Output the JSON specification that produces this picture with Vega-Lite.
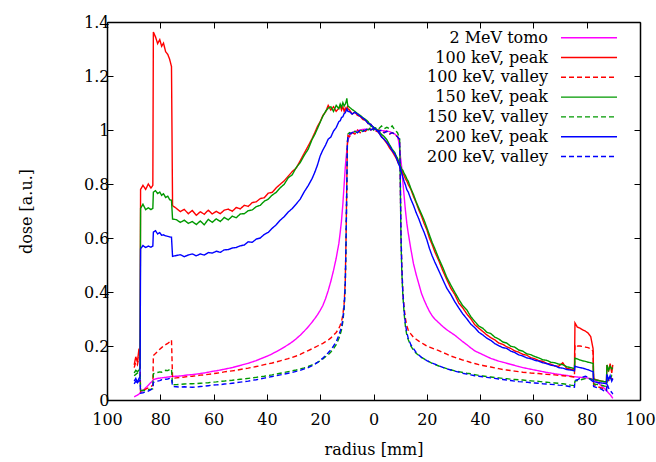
{
  "$schema": "https://vega.github.io/schema/vega-lite/v6.json",
  "width": 533,
  "height": 378,
  "autosize": {"type": "none"},
  "padding": {"left": 107, "top": 22, "right": 16, "bottom": 62},
  "background": "white",
  "data": {"values": [
    {"x":-89.8,"a":0.012,"b":0.13,"c":0.12,"d":0.1,"e":0.09,"f":0.07,"g":0.06},
    {"x":-89.2,"a":0.015,"b":0.16,"c":0.14,"d":0.11,"e":0.095,"f":0.08,"g":0.07},
    {"x":-88.6,"a":0.018,"b":0.14,"c":0.13,"d":0.105,"e":0.1,"f":0.065,"g":0.06},
    {"x":-88.0,"a":0.022,"b":0.19,"c":0.16,"d":0.11,"e":0.1,"f":0.08,"g":0.07},
    {"x":-87.6,"a":0.026,"b":0.15,"c":0.13,"d":0.12,"e":0.1,"f":0.085,"g":0.075},
    {"x":-87.4,"a":0.028,"b":0.78,"c":0.03,"d":0.71,"e":0.035,"f":0.56,"g":0.025},
    {"x":-86.5,"a":0.035,"b":0.795,"c":0.034,"d":0.725,"e":0.036,"f":0.572,"g":0.027},
    {"x":-85.5,"a":0.045,"b":0.78,"c":0.04,"d":0.705,"e":0.035,"f":0.565,"g":0.03},
    {"x":-84.5,"a":0.055,"b":0.8,"c":0.045,"d":0.712,"e":0.038,"f":0.57,"g":0.033},
    {"x":-83.5,"a":0.065,"b":0.785,"c":0.05,"d":0.705,"e":0.04,"f":0.566,"g":0.038},
    {"x":-82.8,"a":0.072,"b":0.795,"c":0.055,"d":0.71,"e":0.042,"f":0.57,"g":0.044},
    {"x":-82.6,"a":0.075,"b":1.363,"c":0.165,"d":0.77,"e":0.097,"f":0.622,"g":0.065},
    {"x":-81.8,"a":0.078,"b":1.345,"c":0.172,"d":0.775,"e":0.1,"f":0.627,"g":0.068},
    {"x":-81.0,"a":0.08,"b":1.32,"c":0.18,"d":0.765,"e":0.102,"f":0.615,"g":0.07},
    {"x":-80.2,"a":0.081,"b":1.335,"c":0.188,"d":0.77,"e":0.104,"f":0.62,"g":0.072},
    {"x":-79.5,"a":0.082,"b":1.31,"c":0.194,"d":0.758,"e":0.103,"f":0.61,"g":0.075},
    {"x":-78.8,"a":0.083,"b":1.322,"c":0.2,"d":0.764,"e":0.107,"f":0.612,"g":0.074},
    {"x":-78.0,"a":0.084,"b":1.29,"c":0.205,"d":0.75,"e":0.11,"f":0.608,"g":0.077},
    {"x":-77.2,"a":0.085,"b":1.28,"c":0.21,"d":0.755,"e":0.109,"f":0.606,"g":0.078},
    {"x":-76.5,"a":0.086,"b":1.262,"c":0.215,"d":0.742,"e":0.113,"f":0.604,"g":0.08},
    {"x":-75.8,"a":0.087,"b":1.235,"c":0.222,"d":0.74,"e":0.115,"f":0.603,"g":0.08},
    {"x":-75.4,"a":0.087,"b":0.72,"c":0.08,"d":0.67,"e":0.056,"f":0.532,"g":0.05},
    {"x":-74.0,"a":0.088,"b":0.71,"c":0.082,"d":0.668,"e":0.057,"f":0.535,"g":0.049},
    {"x":-72.5,"a":0.089,"b":0.698,"c":0.084,"d":0.658,"e":0.058,"f":0.538,"g":0.048},
    {"x":-71.0,"a":0.091,"b":0.706,"c":0.085,"d":0.666,"e":0.059,"f":0.531,"g":0.049},
    {"x":-69.5,"a":0.093,"b":0.69,"c":0.087,"d":0.654,"e":0.06,"f":0.537,"g":0.048},
    {"x":-68.0,"a":0.094,"b":0.702,"c":0.088,"d":0.661,"e":0.06,"f":0.541,"g":0.047},
    {"x":-66.5,"a":0.096,"b":0.684,"c":0.09,"d":0.65,"e":0.061,"f":0.534,"g":0.048},
    {"x":-65.0,"a":0.098,"b":0.697,"c":0.092,"d":0.663,"e":0.062,"f":0.541,"g":0.05},
    {"x":-63.5,"a":0.1,"b":0.688,"c":0.093,"d":0.649,"e":0.063,"f":0.537,"g":0.051},
    {"x":-62.0,"a":0.103,"b":0.703,"c":0.095,"d":0.669,"e":0.064,"f":0.546,"g":0.053},
    {"x":-60.5,"a":0.106,"b":0.689,"c":0.097,"d":0.658,"e":0.066,"f":0.544,"g":0.055},
    {"x":-59.0,"a":0.108,"b":0.699,"c":0.099,"d":0.671,"e":0.067,"f":0.551,"g":0.056},
    {"x":-57.5,"a":0.111,"b":0.69,"c":0.101,"d":0.661,"e":0.069,"f":0.547,"g":0.057},
    {"x":-56.0,"a":0.114,"b":0.703,"c":0.104,"d":0.676,"e":0.07,"f":0.556,"g":0.059},
    {"x":-54.5,"a":0.117,"b":0.707,"c":0.106,"d":0.667,"e":0.072,"f":0.557,"g":0.06},
    {"x":-53.0,"a":0.12,"b":0.699,"c":0.108,"d":0.681,"e":0.073,"f":0.563,"g":0.062},
    {"x":-51.5,"a":0.124,"b":0.713,"c":0.11,"d":0.675,"e":0.075,"f":0.565,"g":0.064},
    {"x":-50.0,"a":0.128,"b":0.708,"c":0.113,"d":0.689,"e":0.077,"f":0.571,"g":0.066},
    {"x":-48.5,"a":0.132,"b":0.721,"c":0.116,"d":0.69,"e":0.078,"f":0.574,"g":0.068},
    {"x":-47.0,"a":0.136,"b":0.717,"c":0.118,"d":0.701,"e":0.08,"f":0.586,"g":0.07},
    {"x":-45.5,"a":0.141,"b":0.731,"c":0.121,"d":0.704,"e":0.082,"f":0.584,"g":0.073},
    {"x":-44.0,"a":0.146,"b":0.734,"c":0.124,"d":0.716,"e":0.084,"f":0.596,"g":0.075},
    {"x":-42.5,"a":0.152,"b":0.746,"c":0.127,"d":0.721,"e":0.086,"f":0.6,"g":0.078},
    {"x":-41.0,"a":0.158,"b":0.749,"c":0.131,"d":0.736,"e":0.088,"f":0.613,"g":0.081},
    {"x":-39.5,"a":0.164,"b":0.766,"c":0.134,"d":0.744,"e":0.091,"f":0.621,"g":0.084},
    {"x":-38.0,"a":0.171,"b":0.769,"c":0.137,"d":0.759,"e":0.093,"f":0.636,"g":0.087},
    {"x":-36.5,"a":0.179,"b":0.786,"c":0.141,"d":0.769,"e":0.096,"f":0.649,"g":0.09},
    {"x":-35.0,"a":0.187,"b":0.799,"c":0.145,"d":0.786,"e":0.099,"f":0.666,"g":0.093},
    {"x":-33.5,"a":0.196,"b":0.812,"c":0.149,"d":0.799,"e":0.102,"f":0.679,"g":0.096},
    {"x":-32.0,"a":0.205,"b":0.829,"c":0.153,"d":0.823,"e":0.105,"f":0.696,"g":0.099},
    {"x":-30.5,"a":0.215,"b":0.846,"c":0.158,"d":0.834,"e":0.108,"f":0.709,"g":0.102},
    {"x":-29.0,"a":0.227,"b":0.859,"c":0.163,"d":0.861,"e":0.111,"f":0.726,"g":0.106},
    {"x":-27.5,"a":0.24,"b":0.886,"c":0.169,"d":0.879,"e":0.115,"f":0.744,"g":0.11},
    {"x":-26.0,"a":0.255,"b":0.914,"c":0.176,"d":0.906,"e":0.119,"f":0.771,"g":0.115},
    {"x":-24.5,"a":0.271,"b":0.941,"c":0.183,"d":0.929,"e":0.124,"f":0.794,"g":0.12},
    {"x":-23.0,"a":0.289,"b":0.969,"c":0.19,"d":0.966,"e":0.13,"f":0.821,"g":0.127},
    {"x":-22.0,"a":0.302,"b":0.991,"c":0.195,"d":0.984,"e":0.134,"f":0.844,"g":0.133},
    {"x":-21.0,"a":0.316,"b":1.014,"c":0.2,"d":1.006,"e":0.139,"f":0.871,"g":0.139},
    {"x":-20.0,"a":0.332,"b":1.031,"c":0.205,"d":1.029,"e":0.145,"f":0.904,"g":0.147},
    {"x":-19.0,"a":0.35,"b":1.054,"c":0.21,"d":1.051,"e":0.152,"f":0.926,"g":0.155},
    {"x":-18.0,"a":0.375,"b":1.066,"c":0.216,"d":1.069,"e":0.16,"f":0.944,"g":0.165},
    {"x":-17.0,"a":0.405,"b":1.091,"c":0.222,"d":1.081,"e":0.168,"f":0.966,"g":0.175},
    {"x":-16.0,"a":0.44,"b":1.074,"c":0.23,"d":1.086,"e":0.178,"f":0.974,"g":0.186},
    {"x":-15.0,"a":0.48,"b":1.086,"c":0.24,"d":1.069,"e":0.19,"f":0.996,"g":0.2},
    {"x":-14.0,"a":0.525,"b":1.069,"c":0.25,"d":1.091,"e":0.205,"f":1.009,"g":0.215},
    {"x":-13.0,"a":0.58,"b":1.081,"c":0.265,"d":1.079,"e":0.228,"f":1.031,"g":0.24},
    {"x":-12.5,"a":0.62,"b":1.091,"c":0.277,"d":1.096,"e":0.243,"f":1.034,"g":0.255},
    {"x":-12.0,"a":0.665,"b":1.074,"c":0.29,"d":1.084,"e":0.26,"f":1.046,"g":0.27},
    {"x":-11.5,"a":0.725,"b":1.086,"c":0.315,"d":1.101,"e":0.29,"f":1.049,"g":0.3},
    {"x":-11.0,"a":0.8,"b":1.069,"c":0.36,"d":1.089,"e":0.34,"f":1.061,"g":0.35},
    {"x":-10.6,"a":0.86,"b":1.081,"c":0.44,"d":1.096,"e":0.42,"f":1.064,"g":0.43},
    {"x":-10.3,"a":0.895,"b":1.074,"c":0.6,"d":1.104,"e":0.58,"f":1.071,"g":0.59},
    {"x":-10.0,"a":0.925,"b":1.081,"c":0.82,"d":1.117,"e":0.8,"f":1.078,"g":0.81},
    {"x":-9.8,"a":0.945,"b":1.086,"c":0.95,"d":1.099,"e":0.945,"f":1.074,"g":0.95},
    {"x":-9.6,"a":0.96,"b":1.079,"c":0.98,"d":1.089,"e":0.985,"f":1.069,"g":0.975},
    {"x":-9.0,"a":0.98,"b":1.074,"c":0.975,"d":1.084,"e":0.99,"f":1.068,"g":0.985},
    {"x":-8.0,"a":0.99,"b":1.059,"c":0.99,"d":1.076,"e":0.985,"f":1.059,"g":0.99},
    {"x":-7.0,"a":0.995,"b":1.066,"c":0.985,"d":1.069,"e":0.995,"f":1.066,"g":0.995},
    {"x":-6.0,"a":0.998,"b":1.054,"c":1.0,"d":1.061,"e":0.99,"f":1.059,"g":0.99},
    {"x":-5.0,"a":1.0,"b":1.051,"c":0.99,"d":1.054,"e":1.0,"f":1.051,"g":1.0},
    {"x":-4.0,"a":1.002,"b":1.039,"c":1.0,"d":1.046,"e":0.995,"f":1.044,"g":0.995},
    {"x":-3.0,"a":1.003,"b":1.036,"c":0.995,"d":1.039,"e":1.005,"f":1.036,"g":1.0},
    {"x":-2.0,"a":1.003,"b":1.024,"c":1.005,"d":1.031,"e":1.0,"f":1.024,"g":1.005},
    {"x":-1.0,"a":1.003,"b":1.021,"c":1.0,"d":1.014,"e":1.01,"f":1.021,"g":1.0},
    {"x":0.0,"a":1.002,"b":1.009,"c":1.005,"d":1.011,"e":1.0,"f":1.009,"g":1.005},
    {"x":1.0,"a":1.0,"b":1.001,"c":0.995,"d":1.004,"e":1.01,"f":1.001,"g":1.0},
    {"x":2.0,"a":0.999,"b":0.989,"c":1.0,"d":0.996,"e":1.005,"f":0.991,"g":0.995},
    {"x":3.0,"a":0.998,"b":0.976,"c":0.995,"d":0.984,"e":1.015,"f":0.974,"g":1.0},
    {"x":4.0,"a":0.997,"b":0.964,"c":0.99,"d":0.976,"e":1.005,"f":0.966,"g":0.99},
    {"x":5.0,"a":0.996,"b":0.951,"c":0.995,"d":0.964,"e":1.01,"f":0.954,"g":0.995},
    {"x":6.0,"a":0.994,"b":0.934,"c":0.985,"d":0.946,"e":1.005,"f":0.941,"g":0.985},
    {"x":7.0,"a":0.99,"b":0.921,"c":0.99,"d":0.929,"e":1.015,"f":0.924,"g":0.99},
    {"x":8.0,"a":0.985,"b":0.904,"c":0.985,"d":0.916,"e":1.0,"f":0.911,"g":0.985},
    {"x":8.5,"a":0.98,"b":0.896,"c":0.98,"d":0.904,"e":0.995,"f":0.899,"g":0.98},
    {"x":9.0,"a":0.975,"b":0.884,"c":0.975,"d":0.896,"e":0.99,"f":0.886,"g":0.975},
    {"x":9.4,"a":0.96,"b":0.876,"c":0.97,"d":0.884,"e":0.98,"f":0.874,"g":0.97},
    {"x":9.8,"a":0.93,"b":0.869,"c":0.96,"d":0.876,"e":0.97,"f":0.866,"g":0.965},
    {"x":10.0,"a":0.91,"b":0.866,"c":0.85,"d":0.869,"e":0.86,"f":0.859,"g":0.86},
    {"x":10.3,"a":0.885,"b":0.854,"c":0.62,"d":0.863,"e":0.6,"f":0.851,"g":0.62},
    {"x":10.6,"a":0.86,"b":0.851,"c":0.5,"d":0.854,"e":0.48,"f":0.839,"g":0.5},
    {"x":11.0,"a":0.81,"b":0.839,"c":0.4,"d":0.851,"e":0.39,"f":0.826,"g":0.4},
    {"x":11.5,"a":0.755,"b":0.831,"c":0.34,"d":0.839,"e":0.32,"f":0.809,"g":0.33},
    {"x":12.0,"a":0.7,"b":0.819,"c":0.3,"d":0.831,"e":0.27,"f":0.796,"g":0.28},
    {"x":12.5,"a":0.655,"b":0.811,"c":0.275,"d":0.819,"e":0.24,"f":0.779,"g":0.25},
    {"x":13.0,"a":0.62,"b":0.799,"c":0.26,"d":0.811,"e":0.225,"f":0.771,"g":0.23},
    {"x":14.0,"a":0.56,"b":0.781,"c":0.245,"d":0.784,"e":0.2,"f":0.744,"g":0.205},
    {"x":15.0,"a":0.505,"b":0.754,"c":0.232,"d":0.761,"e":0.185,"f":0.721,"g":0.19},
    {"x":16.0,"a":0.465,"b":0.731,"c":0.225,"d":0.734,"e":0.173,"f":0.694,"g":0.176},
    {"x":17.0,"a":0.43,"b":0.704,"c":0.218,"d":0.711,"e":0.165,"f":0.671,"g":0.167},
    {"x":18.0,"a":0.395,"b":0.681,"c":0.212,"d":0.689,"e":0.158,"f":0.644,"g":0.158},
    {"x":19.0,"a":0.37,"b":0.654,"c":0.206,"d":0.666,"e":0.152,"f":0.621,"g":0.152},
    {"x":20.0,"a":0.348,"b":0.631,"c":0.2,"d":0.639,"e":0.146,"f":0.594,"g":0.146},
    {"x":21.0,"a":0.328,"b":0.599,"c":0.196,"d":0.611,"e":0.141,"f":0.561,"g":0.141},
    {"x":22.0,"a":0.312,"b":0.576,"c":0.192,"d":0.584,"e":0.136,"f":0.534,"g":0.137},
    {"x":23.0,"a":0.3,"b":0.549,"c":0.188,"d":0.561,"e":0.132,"f":0.511,"g":0.133},
    {"x":24.5,"a":0.286,"b":0.516,"c":0.183,"d":0.524,"e":0.126,"f":0.479,"g":0.127},
    {"x":26.0,"a":0.272,"b":0.479,"c":0.176,"d":0.491,"e":0.121,"f":0.446,"g":0.121},
    {"x":27.5,"a":0.26,"b":0.446,"c":0.17,"d":0.454,"e":0.116,"f":0.414,"g":0.116},
    {"x":29.0,"a":0.25,"b":0.414,"c":0.163,"d":0.426,"e":0.112,"f":0.391,"g":0.111},
    {"x":30.5,"a":0.24,"b":0.391,"c":0.158,"d":0.399,"e":0.108,"f":0.364,"g":0.107},
    {"x":32.0,"a":0.228,"b":0.359,"c":0.153,"d":0.373,"e":0.105,"f":0.341,"g":0.103},
    {"x":33.5,"a":0.216,"b":0.341,"c":0.148,"d":0.349,"e":0.102,"f":0.319,"g":0.099},
    {"x":35.0,"a":0.205,"b":0.319,"c":0.144,"d":0.334,"e":0.099,"f":0.301,"g":0.096},
    {"x":36.5,"a":0.193,"b":0.301,"c":0.139,"d":0.309,"e":0.097,"f":0.281,"g":0.093},
    {"x":38.0,"a":0.182,"b":0.279,"c":0.135,"d":0.291,"e":0.094,"f":0.268,"g":0.09},
    {"x":39.5,"a":0.175,"b":0.266,"c":0.131,"d":0.274,"e":0.091,"f":0.251,"g":0.088},
    {"x":41.0,"a":0.168,"b":0.254,"c":0.128,"d":0.266,"e":0.089,"f":0.241,"g":0.086},
    {"x":42.5,"a":0.161,"b":0.241,"c":0.125,"d":0.251,"e":0.087,"f":0.229,"g":0.084},
    {"x":44.0,"a":0.154,"b":0.231,"c":0.122,"d":0.246,"e":0.085,"f":0.221,"g":0.082},
    {"x":45.5,"a":0.149,"b":0.223,"c":0.119,"d":0.233,"e":0.083,"f":0.209,"g":0.08},
    {"x":47.0,"a":0.144,"b":0.211,"c":0.116,"d":0.226,"e":0.082,"f":0.201,"g":0.078},
    {"x":48.5,"a":0.14,"b":0.206,"c":0.113,"d":0.215,"e":0.08,"f":0.194,"g":0.076},
    {"x":50.0,"a":0.136,"b":0.197,"c":0.111,"d":0.211,"e":0.079,"f":0.191,"g":0.074},
    {"x":51.5,"a":0.132,"b":0.191,"c":0.109,"d":0.199,"e":0.077,"f":0.181,"g":0.072},
    {"x":53.0,"a":0.128,"b":0.182,"c":0.107,"d":0.196,"e":0.076,"f":0.176,"g":0.07},
    {"x":54.5,"a":0.124,"b":0.177,"c":0.105,"d":0.185,"e":0.075,"f":0.167,"g":0.068},
    {"x":56.0,"a":0.12,"b":0.169,"c":0.103,"d":0.181,"e":0.074,"f":0.163,"g":0.067},
    {"x":57.5,"a":0.117,"b":0.166,"c":0.102,"d":0.171,"e":0.072,"f":0.156,"g":0.066},
    {"x":59.0,"a":0.114,"b":0.157,"c":0.1,"d":0.168,"e":0.071,"f":0.153,"g":0.064},
    {"x":60.5,"a":0.111,"b":0.153,"c":0.099,"d":0.161,"e":0.07,"f":0.147,"g":0.063},
    {"x":62.0,"a":0.108,"b":0.146,"c":0.098,"d":0.156,"e":0.069,"f":0.144,"g":0.062},
    {"x":63.5,"a":0.105,"b":0.143,"c":0.096,"d":0.149,"e":0.067,"f":0.138,"g":0.06},
    {"x":65.0,"a":0.102,"b":0.135,"c":0.095,"d":0.147,"e":0.066,"f":0.135,"g":0.059},
    {"x":66.5,"a":0.1,"b":0.133,"c":0.094,"d":0.14,"e":0.064,"f":0.129,"g":0.058},
    {"x":68.0,"a":0.097,"b":0.126,"c":0.093,"d":0.138,"e":0.063,"f":0.127,"g":0.057},
    {"x":69.5,"a":0.095,"b":0.125,"c":0.091,"d":0.133,"e":0.062,"f":0.12,"g":0.055},
    {"x":71.0,"a":0.093,"b":0.138,"c":0.09,"d":0.131,"e":0.06,"f":0.118,"g":0.054},
    {"x":72.5,"a":0.091,"b":0.117,"c":0.089,"d":0.123,"e":0.058,"f":0.113,"g":0.052},
    {"x":74.0,"a":0.088,"b":0.114,"c":0.087,"d":0.12,"e":0.055,"f":0.111,"g":0.049},
    {"x":75.4,"a":0.086,"b":0.11,"c":0.085,"d":0.116,"e":0.053,"f":0.108,"g":0.047},
    {"x":75.6,"a":0.086,"b":0.285,"c":0.205,"d":0.155,"e":0.07,"f":0.125,"g":0.072},
    {"x":76.5,"a":0.085,"b":0.27,"c":0.2,"d":0.152,"e":0.072,"f":0.122,"g":0.075},
    {"x":77.5,"a":0.084,"b":0.266,"c":0.2,"d":0.148,"e":0.074,"f":0.12,"g":0.08},
    {"x":78.5,"a":0.083,"b":0.26,"c":0.198,"d":0.145,"e":0.077,"f":0.118,"g":0.085},
    {"x":79.5,"a":0.082,"b":0.255,"c":0.196,"d":0.143,"e":0.079,"f":0.115,"g":0.088},
    {"x":80.5,"a":0.081,"b":0.248,"c":0.194,"d":0.14,"e":0.08,"f":0.112,"g":0.085},
    {"x":81.5,"a":0.079,"b":0.235,"c":0.19,"d":0.138,"e":0.078,"f":0.108,"g":0.075},
    {"x":82.4,"a":0.077,"b":0.19,"c":0.18,"d":0.135,"e":0.074,"f":0.105,"g":0.068},
    {"x":82.6,"a":0.075,"b":0.08,"c":0.058,"d":0.076,"e":0.06,"f":0.068,"g":0.05},
    {"x":83.5,"a":0.07,"b":0.075,"c":0.052,"d":0.074,"e":0.058,"f":0.066,"g":0.047},
    {"x":84.5,"a":0.062,"b":0.072,"c":0.048,"d":0.072,"e":0.057,"f":0.064,"g":0.043},
    {"x":85.5,"a":0.052,"b":0.07,"c":0.045,"d":0.07,"e":0.055,"f":0.063,"g":0.04},
    {"x":86.5,"a":0.044,"b":0.068,"c":0.04,"d":0.068,"e":0.052,"f":0.062,"g":0.034},
    {"x":87.4,"a":0.035,"b":0.066,"c":0.037,"d":0.067,"e":0.05,"f":0.06,"g":0.03},
    {"x":87.6,"a":0.033,"b":0.13,"c":0.07,"d":0.13,"e":0.075,"f":0.095,"g":0.06},
    {"x":88.2,"a":0.026,"b":0.105,"c":0.075,"d":0.11,"e":0.085,"f":0.075,"g":0.045},
    {"x":88.8,"a":0.02,"b":0.135,"c":0.07,"d":0.125,"e":0.08,"f":0.09,"g":0.035},
    {"x":89.4,"a":0.012,"b":0.1,"c":0.08,"d":0.115,"e":0.09,"f":0.07,"g":0.028},
    {"x":89.8,"a":0.006,"b":0.13,"c":0.075,"d":0.12,"e":0.082,"f":0.08,"g":0.022}
  ]},
  "transform": [{"fold": ["a","b","c","d","e","f","g"], "as": ["s","v"]}],
  "layer": [
    {
      "mark": {"type": "line", "strokeWidth": 1.4},
      "encoding": {
        "x": {"field": "x", "type": "quantitative",
              "scale": {"domain": [-100, 100], "nice": false, "zero": false},
              "axis": {"title": "radius [mm]", "values": [-100,-80,-60,-40,-20,0,20,40,60,80,100],
                       "labelExpr": "abs(datum.value)", "tickSize": -6, "labelPadding": 17, "titlePadding": 14}},
        "y": {"field": "v", "type": "quantitative",
              "scale": {"domain": [0, 1.4], "nice": false, "zero": false},
              "axis": {"title": "dose [a.u.]", "values": [0,0.2,0.4,0.6,0.8,1,1.2,1.4],
                       "format": "~g", "tickSize": -6, "labelPadding": 4, "titlePadding": 49}},
        "color": {"field": "s", "type": "nominal",
                  "scale": {"domain": ["a","b","c","d","e","f","g"],
                            "range": ["#ff00ff","#ff0000","#ff0000","#009900","#009900","#0000ff","#0000ff"]},
                  "legend": {"orient": "none", "legendX": 453, "legendY": 6.7, "title": null,
                             "symbolType": "M-3.5,0H3.5", "symbolSize": 256, "symbolStrokeWidth": 1.4,
                             "symbolOffset": 20, "labelAlign": "right", "labelOffset": -50,
                             "rowPadding": 2.8, "padding": 0,
                             "labelFont": "DejaVu Serif", "labelFontSize": 16, "labelColor": "#000", "labelLimit": 300,
                             "labelExpr": "{'a':'2 MeV tomo','b':'100 keV, peak','c':'100 keV, valley','d':'150 keV, peak','e':'150 keV, valley','f':'200 keV, peak','g':'200 keV, valley'}[datum.label]"}},
        "strokeDash": {"field": "s", "type": "nominal",
                       "scale": {"domain": ["a","b","c","d","e","f","g"],
                                 "range": [[1,0],[1,0],[5,3],[1,0],[5,3],[1,0],[5,3]]}}
      }
    },
    {
      "mark": {"type": "point", "opacity": 0},
      "encoding": {
        "x": {"field": "x", "type": "quantitative",
              "axis": {"orient": "top", "title": null, "labels": false, "values": [-100,-80,-60,-40,-20,0,20,40,60,80,100], "tickSize": -6}},
        "y": {"field": "v", "type": "quantitative",
              "axis": {"orient": "right", "title": null, "labels": false, "values": [0,0.2,0.4,0.6,0.8,1,1.2,1.4], "tickSize": -6}}
      }
    }
  ],
  "resolve": {"axis": {"x": "independent", "y": "independent"}},
  "config": {
    "font": "DejaVu Serif",
    "view": {"stroke": null},
    "axis": {"labelFont": "DejaVu Serif", "titleFont": "DejaVu Serif", "labelFontSize": 16, "titleFontSize": 16,
             "titleFontWeight": "normal", "labelColor": "#000", "titleColor": "#000", "domainColor": "#000",
             "tickColor": "#000", "domainWidth": 1.5, "tickWidth": 1, "grid": false, "labelFlush": false}
  }
}
